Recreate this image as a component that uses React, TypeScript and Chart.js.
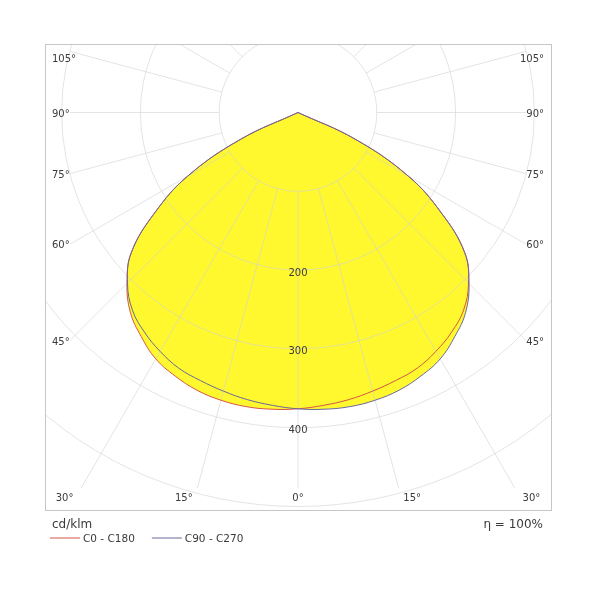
import React, { useEffect, useRef } from "react";
import { Chart, registerables } from "chart.js";

Chart.register(...registerables);

// Gamma angles (degrees from nadir) and luminous intensity in cd/klm
const gammaAngles = [0, 5, 10, 15, 20, 25, 30, 35, 40, 45, 50, 55, 60, 65, 70, 75, 80, 85, 90];
const wideProfile = [376, 378, 379, 378, 375, 369, 361, 347, 331, 307, 276, 222, 162, 80, 0, 0, 0, 0, 0];
const narrowProfile = [376, 373, 370, 366, 362, 358, 350, 340, 327, 306, 276, 222, 162, 80, 0, 0, 0, 0, 0];

const seriesLabels = ["C0 - C180", "C90 - C270"];
const seriesColors = ["rgb(214,86,70)", "rgb(104,104,158)"];
const fillColor = "#fff82e";

const ringValues = [100, 200, 300, 400, 500, 600];
const ringLabelValues = [200, 300, 400];
const angleLabelValues = [0, 15, 30, 45, 60, 75, 90, 105];
const unitText = "cd/klm";
const efficiencyText = "η = 100%";

function buildCurve(leftProfile: number[], rightProfile: number[]) {
  const pts: { x: number; y: number }[] = [];
  for (let i = gammaAngles.length - 1; i >= 0; i--) {
    const g = (gammaAngles[i] * Math.PI) / 180;
    const v = leftProfile[i];
    pts.push({ x: -v * Math.sin(g), y: -v * Math.cos(g) });
  }
  for (let i = 1; i < gammaAngles.length; i++) {
    const g = (gammaAngles[i] * Math.PI) / 180;
    const v = rightProfile[i];
    pts.push({ x: v * Math.sin(g), y: -v * Math.cos(g) });
  }
  return pts;
}

const GRID = "rgba(210,210,210,0.6)";
const TEXT = "#3a3a3a";
const FONT = "'DejaVu Sans', Verdana, sans-serif";

const polarGrid = {
  id: "polarGrid",
  beforeDatasetsDraw(chart: any) {
    const { ctx, chartArea: a, scales } = chart;
    const xs = scales.x;
    const ys = scales.y;
    const cx = xs.getPixelForValue(0);
    const cy = ys.getPixelForValue(0);
    const k = (xs.getPixelForValue(100) - cx) / 100;
    ctx.save();
    ctx.beginPath();
    ctx.rect(a.left, a.top, a.right - a.left, a.bottom - a.top);
    ctx.clip();
    ctx.strokeStyle = GRID;
    ctx.lineWidth = 1;
    for (const rv of ringValues) {
      ctx.beginPath();
      ctx.arc(cx, cy, rv * k, 0, Math.PI * 2);
      ctx.stroke();
    }
    const L = a.left + 25, R = a.right - 26, T = a.top, B = a.bottom - 23;
    for (let d = 0; d < 360; d += 15) {
      const g = (d * Math.PI) / 180;
      const dx = Math.sin(g), dy = Math.cos(g);
      let t = Infinity;
      if (dx > 1e-9) t = Math.min(t, (R - cx) / dx);
      if (dx < -1e-9) t = Math.min(t, (L - cx) / dx);
      if (dy > 1e-9) t = Math.min(t, (B - cy) / dy);
      if (dy < -1e-9) t = Math.min(t, (T - cy) / dy);
      const r0 = ringValues[0] * k;
      if (t <= r0) continue;
      ctx.beginPath();
      ctx.moveTo(cx + dx * r0, cy + dy * r0);
      ctx.lineTo(cx + dx * t, cy + dy * t);
      ctx.stroke();
    }
    ctx.restore();
  },
  afterDraw(chart: any) {
    const { ctx, chartArea: a, scales } = chart;
    const xs = scales.x;
    const ys = scales.y;
    const cx = xs.getPixelForValue(0);
    const cy = ys.getPixelForValue(0);
    const k = (xs.getPixelForValue(100) - cx) / 100;
    ctx.save();
    // frame
    ctx.strokeStyle = "#c6c6c6";
    ctx.lineWidth = 1;
    ctx.strokeRect(a.left + 0.5, a.top + 0.5, a.right - a.left - 1, a.bottom - a.top - 1);

    // ring labels
    ctx.fillStyle = TEXT;
    ctx.font = `10px ${FONT}`;
    ctx.textAlign = "center";
    ctx.textBaseline = "middle";
    for (const rv of ringLabelValues) {
      ctx.fillText(String(rv), cx, cy + rv * k + 3);
    }

    // angle labels
    const L = a.left + 25, R = a.right - 26, T = a.top, B = a.bottom - 23;
    const labelY = a.bottom - 13;
    for (const deg of angleLabelValues) {
      const sides = deg === 0 ? [0] : [-1, 1];
      for (const s of sides) {
        const g = (deg * Math.PI) / 180;
        const dx = s * Math.sin(g), dy = Math.cos(g);
        let tSide = Infinity, tBottom = Infinity, tTop = Infinity;
        if (dx > 1e-9) tSide = (R - cx) / dx;
        if (dx < -1e-9) tSide = (L - cx) / dx;
        if (dy > 1e-9) tBottom = (B - cy) / dy;
        if (dy < -1e-9) tTop = (T - cy) / dy;
        const text = `${deg}°`;
        if (tBottom <= tSide) {
          if (s === 0) {
            ctx.textAlign = "center";
            ctx.fillText(text, cx, labelY);
          } else {
            const xl = cx + (labelY - cy) * Math.tan(g) * s;
            ctx.textAlign = s < 0 ? "right" : "left";
            ctx.fillText(text, xl + (s < 0 ? -2 : 2), labelY);
          }
        } else {
          const ey = cy + dy * Math.min(tSide, tTop);
          const yl = Math.max(ey + 1.5, a.top + 15);
          if (s < 0) {
            ctx.textAlign = "left";
            ctx.fillText(text, a.left + 7, yl);
          } else {
            ctx.textAlign = "right";
            ctx.fillText(text, a.right - 8, yl);
          }
        }
      }
    }

    // unit and efficiency
    ctx.font = `12px ${FONT}`;
    ctx.textAlign = "left";
    ctx.fillText(unitText, a.left + 7, a.bottom + 14);
    ctx.textAlign = "right";
    ctx.fillText(efficiencyText, a.right - 9, a.bottom + 14);

    // legend
    ctx.font = `10.5px ${FONT}`;
    ctx.textAlign = "left";
    let x0 = a.left + 5;
    const ly = a.bottom + 28;
    const ordered = [...chart.data.datasets].sort((p: any, q: any) => seriesLabels.indexOf(p.label) - seriesLabels.indexOf(q.label));
    ordered.forEach((ds: any) => {
      ctx.strokeStyle = ds.borderColor;
      ctx.lineWidth = 1;
      ctx.beginPath();
      ctx.moveTo(x0, ly - 1);
      ctx.lineTo(x0 + 30, ly - 1);
      ctx.stroke();
      ctx.fillStyle = TEXT;
      ctx.fillText(ds.label, x0 + 33, ly + 0.5);
      x0 = x0 + 33 + ctx.measureText(ds.label).width + 17;
    });
    ctx.restore();
  },
};

export default function App() {
  const ref = useRef<HTMLCanvasElement | null>(null);
  useEffect(() => {
    if (!ref.current) return;
    const chart = new Chart(ref.current, {
      type: "scatter",
      data: {
        datasets: [
          {
            label: seriesLabels[1],
            data: buildCurve(narrowProfile, wideProfile),
            showLine: true,
            borderColor: seriesColors[1],
            backgroundColor: fillColor,
            borderWidth: 1,
            pointRadius: 0,
            tension: 0.4,
            fill: "shape",
            borderJoinStyle: "round",
          } as any,
          {
            label: seriesLabels[0],
            data: buildCurve(wideProfile, narrowProfile),
            showLine: true,
            borderColor: seriesColors[0],
            backgroundColor: fillColor,
            borderWidth: 1,
            pointRadius: 0,
            tension: 0.4,
            fill: "shape",
            borderJoinStyle: "round",
          } as any,
        ],
      },
      options: {
        responsive: false,
        animation: false,
        devicePixelRatio: 1,
        layout: { padding: { left: 45, right: 48, top: 44, bottom: 89 } },
        scales: {
          x: { type: "linear", display: false, min: -321.07, max: 322.34 },
          y: { type: "linear", display: false, min: -505.71, max: 86.93 },
        },
        plugins: {
          legend: { display: false },
          tooltip: { enabled: false },
          filler: { drawTime: "beforeDatasetsDraw" },
        } as any,
        events: [],
      },
      plugins: [polarGrid],
    });
    return () => chart.destroy();
  }, []);
  return (
    <div style={{ position: "absolute", left: 0, top: 0, width: 600, height: 600, background: "#fff" }}>
      <canvas ref={ref} width={600} height={600} />
    </div>
  );
}
